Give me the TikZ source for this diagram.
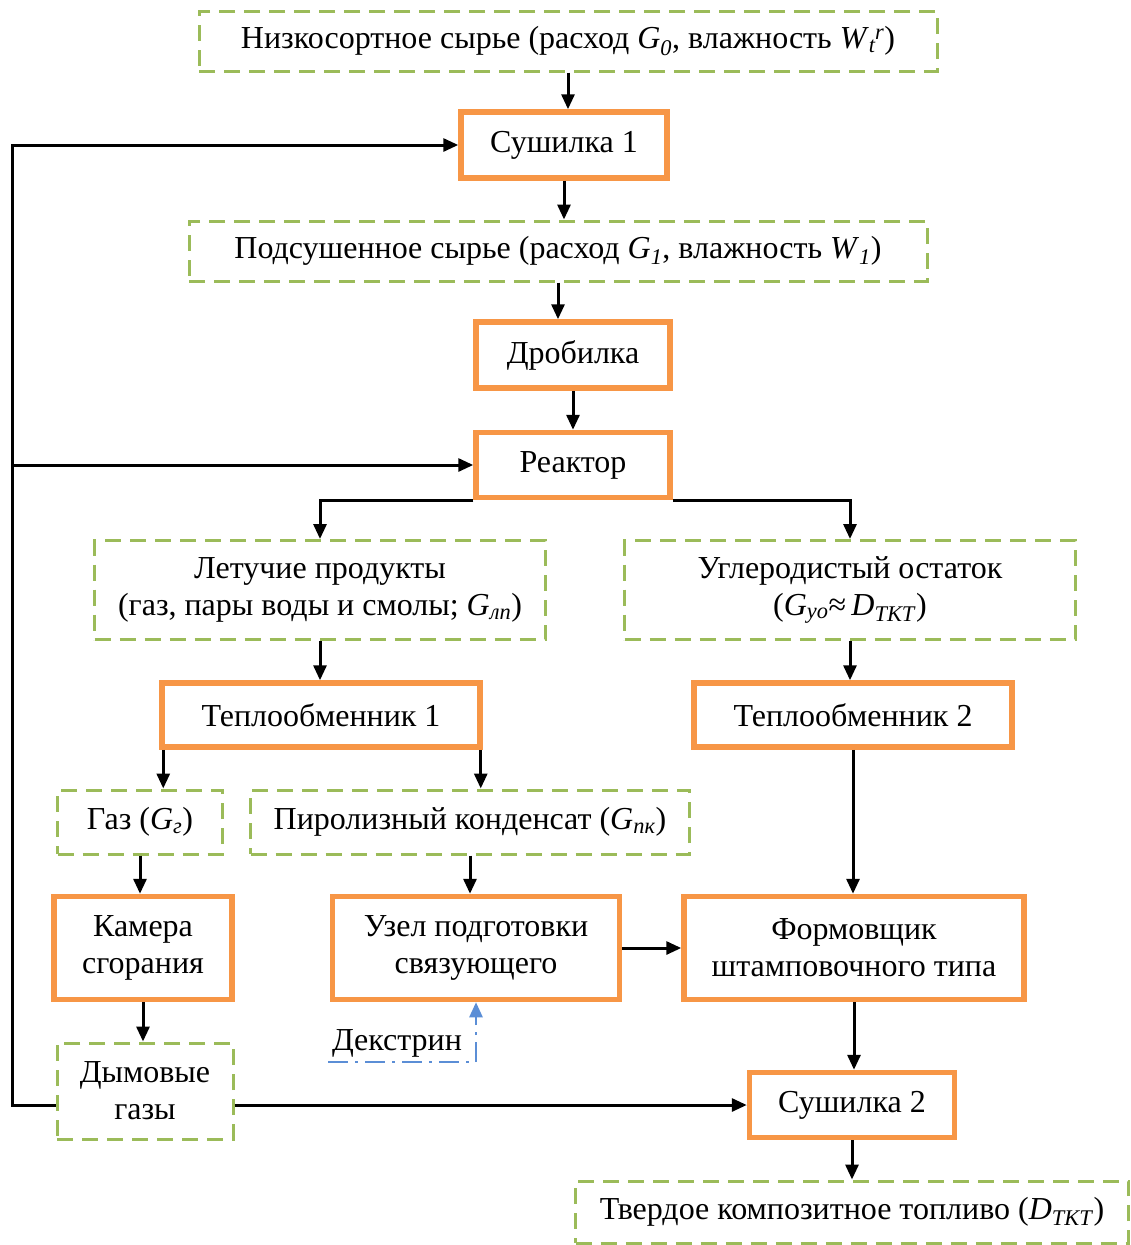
\documentclass[tikz,border=0pt]{standalone}
\usepackage{fontspec}
\setmainfont{LiberationSerif}[Extension=.ttf, UprightFont=*-Regular, ItalicFont=*-Italic, BoldFont=*-Bold, BoldItalicFont=*-BoldItalic]
\usetikzlibrary{arrows.meta}
\definecolor{grn}{HTML}{9BBB59}
\definecolor{org}{HTML}{F79646}
\definecolor{blu}{HTML}{5B8ED6}
\newcommand{\sbs}[1]{\textsubscript{\textit{#1}}}
\begin{document}
\begin{tikzpicture}[x=1pt,y=-1pt,
  font=\fontsize{32}{37}\selectfont,
  gbox/.style={draw=grn, line width=3pt, dash pattern=on 16pt off 9pt, inner sep=0pt, align=center},
  obox/.style={draw=org, line width=5.5pt, inner sep=0pt, align=center},
  arr/.style={line width=3pt, -{Triangle[length=15pt,width=13pt]}},
  barr/.style={draw=blu, line width=2.5pt, dash pattern=on 20pt off 7pt on 3pt off 7pt, -{Triangle[length=15pt,width=13pt]}}]
\useasboundingbox (0,0) rectangle (1131,1245);
\coordinate (L) at (12,0);
\node[gbox, minimum width=738pt, minimum height=60pt] (n0) at (568,41) {Низкосортное сырье (расход \textit{G}\sbs{0}, влажность \textit{W}\sbs{t}\kern-1pt\textsuperscript{\textit{r}})};
\node[obox, minimum width=206pt, minimum height=66pt] (s1) at (564,145) {Сушилка 1};
\node[gbox, minimum width=738pt, minimum height=60pt] (n1) at (558,251) {Подсушенное сырье (расход \textit{G}\sbs{1}, влажность \textit{W}\sbs{1})};
\node[obox, minimum width=194pt, minimum height=66pt] (dr) at (573,355) {Дробилка};
\node[obox, minimum width=194pt, minimum height=65pt] (re) at (573,465) {Реактор};
\node[gbox, minimum width=451pt, minimum height=99pt] (le) at (320,590) {Летучие продукты\\(газ, пары воды и смолы; \textit{G}\sbs{лп})};
\node[gbox, minimum width=451pt, minimum height=99pt] (ug) at (850,590) {Углеродистый остаток\\(\textit{G}\sbs{уо}≈\,\textit{D}\sbs{ТКТ})};
\node[obox, minimum width=318pt, minimum height=64pt] (t1) at (321,715) {Теплообменник 1};
\node[obox, minimum width=318pt, minimum height=64pt] (t2) at (853,715) {Теплообменник 2};
\node[gbox, minimum width=165pt, minimum height=64pt] (ga) at (140,822) {Газ (\textit{G}\sbs{г})};
\node[gbox, minimum width=439pt, minimum height=64pt] (pk) at (470,822) {Пиролизный конденсат (\textit{G}\sbs{пк})};
\node[obox, minimum width=178pt, minimum height=103pt] (ka) at (143,948) {Камера\\сгорания};
\node[obox, minimum width=287pt, minimum height=103pt] (uz) at (476,948) {Узел подготовки\\связующего};
\node[obox, minimum width=340pt, minimum height=103pt] (fo) at (854,948) {Формовщик\\штамповочного типа};
\node[gbox, minimum width=176pt, minimum height=96pt] (dy) at (145,1091) {Дымовые\\газы};
\node[obox, minimum width=205pt, minimum height=65pt] (s2) at (852,1105) {Сушилка 2};
\node[gbox, minimum width=553pt, minimum height=62pt] (tv) at (852,1212) {Твердое композитное топливо (\textit{D}\sbs{ТКТ})};
\node[inner sep=0pt] (dk) at (397,1043) {Декстрин};
\coordinate (dks) at (328,1062);
% connectors
\draw[arr] (n0.south) -- (n0.south |- s1.north);
\draw[arr] (s1.south) -- (s1.south |- n1.north);
\draw[arr] (n1.south) -- (n1.south |- dr.north);
\draw[arr] (dr.south) -- (dr.south |- re.north);
\draw[arr] (re.south west) -| (le.north);
\draw[arr] (re.south east) -| (ug.north);
\draw[arr] (le.south) -- (le.south |- t1.north);
\draw[arr] (ug.south) -- (ug.south |- t2.north);
\draw[arr] (t1.south west) ++(4,0) coordinate (t1a) -- (t1a |- ga.north);
\draw[arr] (t1.south east) ++(-2,0) coordinate (t1b) -- (t1b |- pk.north);
\draw[arr] (ga.south) -- (ga.south |- ka.north);
\draw[arr] (pk.south) -- (pk.south |- uz.north);
\draw[arr] (t2.south) -- (t2.south |- fo.north);
\draw[arr] (uz.east) -- (fo.west);
\draw[arr] (ka.south) -- (ka.south |- dy.north);
\draw[arr] (fo.south) -- (fo.south |- s2.north);
\draw[arr] (s2.south) -- (s2.south |- tv.north);
\draw[arr] (dy.east |- s2.west) -- (s2.west);
\draw[arr] (dy.west |- s2.west) -- (s2.west -| L) |- (s1.west);
\draw[arr] (re.west -| L) -- (re.west);
\draw[barr] (dks) -- (dks -| uz.south) -- (uz.south);
\end{tikzpicture}
\end{document}
